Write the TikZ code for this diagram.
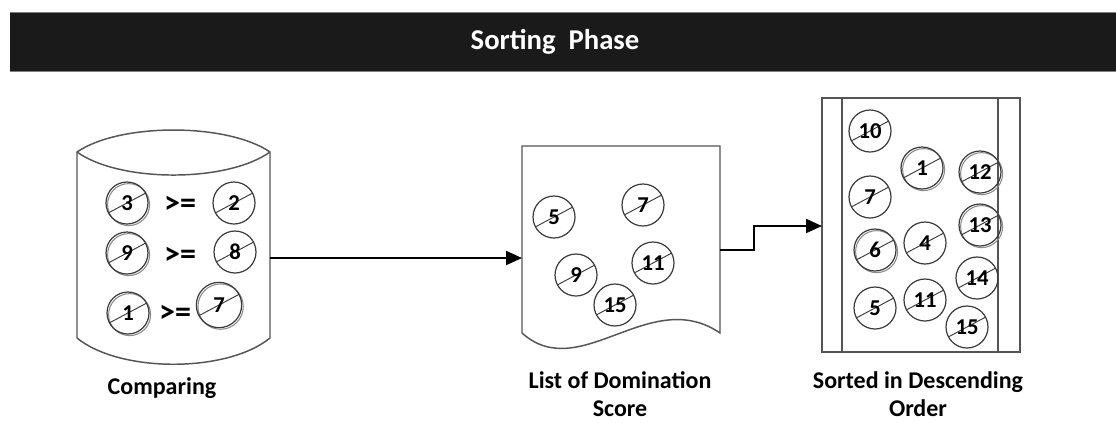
\documentclass[tikz,border=0pt]{standalone}
\usepackage{fontspec}
\setmainfont{Carlito}
\usetikzlibrary{calc,arrows.meta}
\definecolor{barcol}{HTML}{1A1A1A}
\definecolor{shapecol}{HTML}{555555}
\definecolor{ballcol}{HTML}{3A3A3A}
\tikzset{
  shapeline/.style={draw=shapecol, line width=1.1pt},
  conn/.style={draw=black, line width=1.5pt, -{Triangle[length=12pt,width=10.5pt]}},
  ball/.style={circle, draw=ballcol, line width=0.9pt, minimum size=31.5pt, inner sep=0pt,
    font=\bfseries\fontsize{17}{17}\selectfont,
    path picture={\draw[ballcol, line width=0.7pt]
      ($(path picture bounding box.center)+(208:20pt)$) -- ($(path picture bounding box.center)+(28:20pt)$);}},
  bigball/.style={ball, minimum size=34pt},
  ballsh/.style={preaction={draw=black!45, line width=0.8pt, transform canvas={shift={(1.2pt,-1.2pt)}}}},
  gte/.style={font=\bfseries\fontsize{24}{24}\selectfont, inner sep=0pt},
  caption/.style={font=\bfseries\fontsize{18}{21}\selectfont, align=center, inner sep=0pt},
}
\begin{document}
\begin{tikzpicture}[x=0.75pt,y=-0.75pt]
\useasboundingbox (0,0) rectangle (1116,422);
\fill[white] (0,0) rectangle (1116,422);
% header bar
\fill[barcol] (10,12) rectangle (1116,71);
\draw[black!50, line width=0.5pt] (10,12) -- (1116,12);
\draw[black!50, line width=0.5pt] (10,71) -- (1116,71);
\node[text=white, font=\bfseries\fontsize{21.5}{21.5}\selectfont] (title) at (555,42) {Sorting\ \ Phase};
% cylinder
\draw[shapeline] (77,152) .. controls (120,122.7) and (227,122.7) .. (270,152)
  -- (270,338) .. controls (227,373) and (120,373) .. (77,338) -- cycle;
\draw[shapeline] (77,152) .. controls (120,182.7) and (227,182.7) .. (270,152);
\coordinate (cylout) at (270,258);
% document
\draw[shapeline] (522,333) -- (522,146) -- (720,146) -- (720,333)
  .. controls (650,285) and (580,385) .. (522,333);
\coordinate (docin) at (522,258);
\coordinate (docout) at (720,250);
\coordinate (bend1) at (754,250);
\coordinate (bend2) at (754,226);
% sorted box
\draw[shapeline] (822,98) rectangle (1020,352);
\draw[shapeline] (842,98) -- (842,352);
\draw[shapeline] (998,98) -- (998,352);
\coordinate (sortin) at (822,226);
% connectors
\draw[conn] (cylout) -- (docin);
\draw[conn] (docout) -- (bend1) -- (bend2) -- (sortin);
% comparing balls
\node[ball,ballsh] (c3) at (127,203) {3};
\node[gte] (g1) at (180,205) {>=};
\node[ball] (c2) at (234,203) {2};
\node[ball,ballsh] (c9) at (127,253) {9};
\node[gte] (g2) at (180,256) {>=};
\node[ball] (c8) at (235,252) {8};
\node[ball,ballsh] (c1) at (128,313) {1};
\node[gte] (g3) at (175,314) {>=};
\node[bigball,ballsh] (c7) at (219,305) {7};
% domination balls
\node[ball] (d5) at (554,217) {5};
\node[ball] (d7) at (643,205) {7};
\node[ball] (d9) at (576,275) {9};
\node[ball] (d11) at (653,263) {11};
\node[ball] (d15) at (615,305) {15};
% sorted balls
\node[ball] (s10) at (870,131) {10};
\node[ball,ballsh] (s1) at (922,168) {1};
\node[ball,ballsh] (s12) at (980,172) {12};
\node[ball] (s7) at (870,197) {7};
\node[ball,ballsh] (s13) at (980,225) {13};
\node[ball,ballsh] (s6) at (875,250) {6};
\node[ball] (s4) at (925,243) {4};
\node[ball] (s14) at (977,278) {14};
\node[ball] (s5) at (875,308) {5};
\node[ball] (s11) at (925,300) {11};
\node[ball] (s15) at (967,327) {15};
% captions
\node[caption] (cap1) at (162,388) {Comparing};
\node[caption] (cap2) at (620,394) {List of Domination\\Score};
\node[caption] (cap3) at (918,394) {Sorted in Descending\\Order};
\end{tikzpicture}
\end{document}
